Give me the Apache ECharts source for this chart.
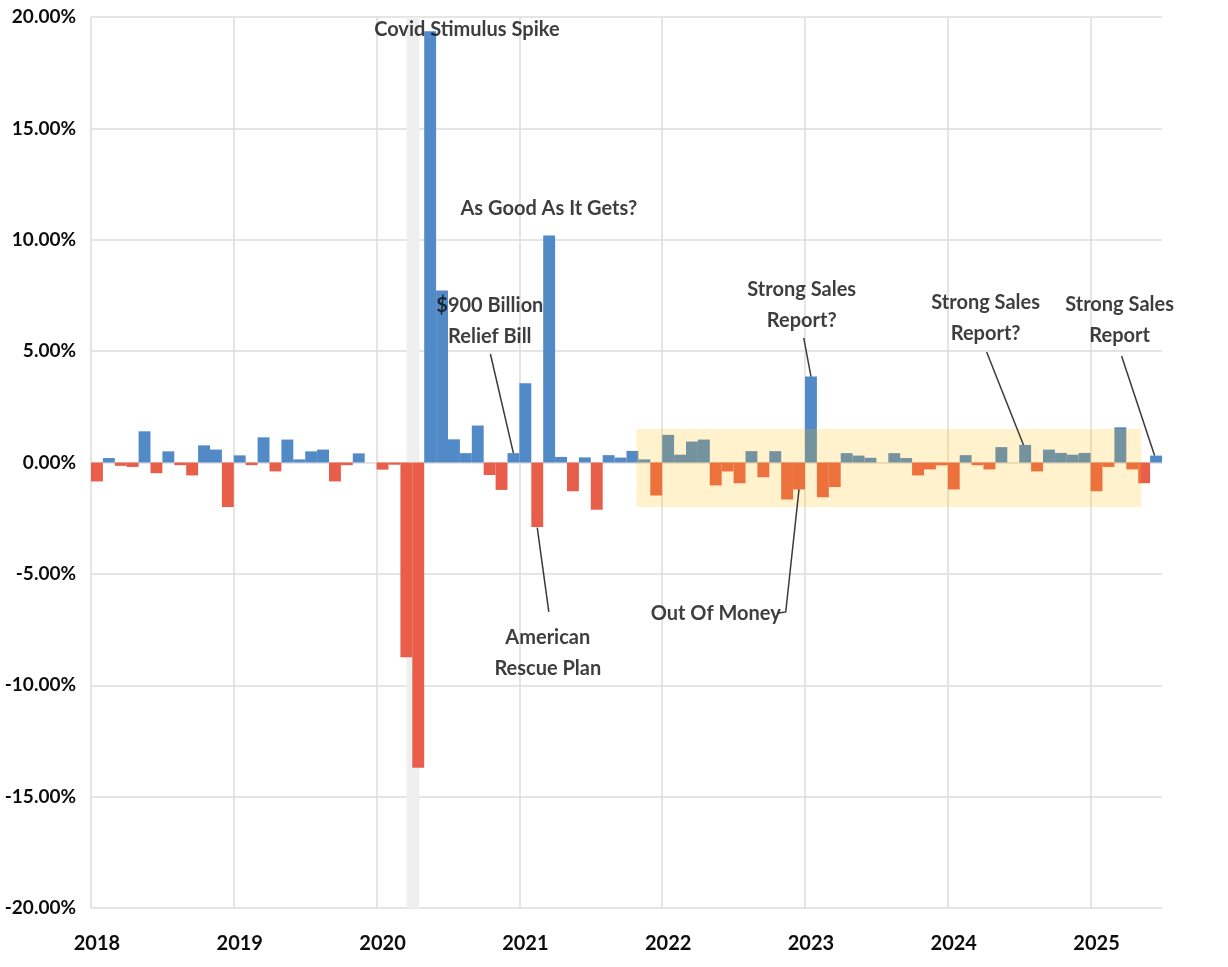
<!DOCTYPE html>
<html>
<head>
<meta charset="utf-8">
<title>Monthly Retail Sales Change</title>
<script src="https://cdn.jsdelivr.net/npm/echarts@6/dist/echarts.min.js"></script>
<style>
  html, body { margin: 0; padding: 0; background: #ffffff; }
  #chart { width: 1228px; height: 967px; }
</style>
</head>
<body>
<div id="chart"></div>
<script>
// Month-over-month change, percent, one array per calendar year
const years = [2018, 2019, 2020, 2021, 2022, 2023, 2024, 2025];
const change2018 = [-0.85, 0.20, -0.15, -0.20, 1.40, -0.48, 0.50, -0.12, -0.58, 0.77, 0.58, -2.00];
const change2019 = [0.32, -0.12, 1.13, -0.40, 1.03, 0.14, 0.50, 0.58, -0.85, -0.12, 0.41, 0.00];
const change2020 = [-0.32, -0.10, -8.74, -13.70, 19.36, 7.72, 1.04, 0.42, 1.66, -0.56, -1.23, 0.42];
const change2021 = [3.56, -2.90, 10.19, 0.25, -1.29, 0.23, -2.12, 0.33, 0.22, 0.52, 0.14, -1.48];
const change2022 = [1.24, 0.35, 0.94, 1.03, -1.03, -0.40, -0.93, 0.51, -0.66, 0.51, -1.66, -1.21];
const change2023 = [3.86, -1.56, -1.10, 0.42, 0.31, 0.21, 0.00, 0.42, 0.20, -0.58, -0.31, -0.13];
const change2024 = [-1.21, 0.33, -0.12, -0.31, 0.69, 0.00, 0.79, -0.40, 0.58, 0.43, 0.35, 0.43];
const change2025 = [-1.29, -0.20, 1.58, -0.31, -0.93, 0.31];
const changeByYear = [change2018, change2019, change2020, change2021, change2022, change2023, change2024, change2025];

// Value axis ticks (percent)
const yMin = -20;
const yMax = 20;
const yStep = 5;

// Shaded periods, x in decimal years, y in percent
const recessionBand = [2020.21, 2020.30];
const slowdownBox = { from: 2021.82, to: 2025.355, low: -2.0, high: 1.5 };

// Call-outs: text anchor and optional leader line, in (decimal year, percent)
const callouts = [
  { text: 'Covid Stimulus Spike', at: [2020.632, 19.42] },
  { text: 'As Good As It Gets?', at: [2021.206, 11.38] },
  { text: '$900 Billion\nRelief Bill', at: [2020.793, 6.35], leader: [[2020.797, 4.87], [2020.958, 0.42]] },
  { text: 'American\nRescue Plan', at: [2021.199, -8.55], leader: [[2021.125, -2.92], [2021.206, -6.71]] },
  { text: 'Strong Sales\nReport?', at: [2022.977, 7.07], leader: [[2022.991, 5.59], [2023.042, 3.86]] },
  { text: 'Out Of Money', at: [2022.375, -6.80], leader: [[2022.958, -1.21], [2022.865, -6.71], [2022.816, -6.76]] },
  { text: 'Strong Sales\nReport?', at: [2024.265, 6.49], leader: [[2024.272, 4.96], [2024.53, 0.79]] },
  { text: 'Strong Sales\nReport', at: [2025.203, 6.39], leader: [[2025.217, 4.78], [2025.448, 0.31]] }
];

// Flatten into monthly categories
const months = [];
const monthlyChange = [];
years.forEach(function (y, yi) {
  changeByYear[yi].forEach(function (v, mi) {
    months.push(y + '-' + String(mi + 1).padStart(2, '0'));
    monthlyChange.push(v);
  });
});

const FONT = "Lato, 'Liberation Sans Narrow', 'DejaVu Sans Condensed', sans-serif";
const TEXT = '#0d0d0d';
const BLUE = '#5289c7';
const RED = '#e95e4b';
const GRID = '#dcdcdc';
const isYearStart = function (index) { return index % 12 === 0; };

const chart = echarts.init(document.getElementById('chart'), null, { renderer: 'canvas' });

function rectRenderer(fill) {
  return function (params, api) {
    const p0 = api.coord([api.value(0), api.value(2)]);
    const p1 = api.coord([api.value(1), api.value(3)]);
    return {
      type: 'rect',
      shape: { x: p0[0], y: p0[1], width: p1[0] - p0[0], height: p1[1] - p0[1] },
      style: { fill: fill }
    };
  };
}

// One vertical line per year start; the closing edge line stays invisible
const yearLineColors = [];
for (let i = 0; i <= years.length; i++) {
  yearLineColors.push(i < years.length ? GRID : 'rgba(0,0,0,0)');
}

chart.setOption({
  animation: false,
  backgroundColor: '#ffffff',
  grid: { left: 91, top: 17, width: 1071, height: 891, outerBoundsMode: 'none', containLabel: false },
  xAxis: [
    {
      type: 'category',
      data: months,
      boundaryGap: true,
      axisLine: { show: false, onZero: false },
      axisTick: { show: false },
      axisLabel: {
        interval: isYearStart,
        formatter: function (v) { return v.slice(0, 4); },
        margin: 26,
        fontFamily: FONT,
        fontWeight: 'bold',
        fontSize: 20,
        color: TEXT
      },
      splitLine: {
        show: true,
        interval: isYearStart,
        lineStyle: { color: yearLineColors, width: 1.5 }
      }
    },
    {
      type: 'value',
      min: years[0],
      max: years[years.length - 1] + change2025.length / 12,
      show: false
    }
  ],
  yAxis: {
    type: 'value',
    min: yMin,
    max: yMax,
    interval: yStep,
    axisLine: { show: false },
    axisTick: { show: false },
    axisLabel: {
      formatter: function (v) { return v.toFixed(2) + '%'; },
      margin: 15,
      fontFamily: FONT,
      fontWeight: 'bold',
      fontSize: 19,
      color: TEXT
    },
    splitLine: { show: true, lineStyle: { color: GRID, width: 1.5 } }
  },
  series: [
    {
      name: 'Recession',
      type: 'custom',
      xAxisIndex: 1,
      z: 1,
      silent: true,
      renderItem: rectRenderer('#efefef'),
      data: [[recessionBand[0], recessionBand[1], yMax, yMin]]
    },
    {
      name: 'Monthly change',
      type: 'bar',
      xAxisIndex: 0,
      z: 2,
      barCategoryGap: '0%',
      barGap: '0%',
      itemStyle: {
        color: function (p) { return p.value >= 0 ? BLUE : RED; }
      },
      data: monthlyChange
    },
    {
      name: 'Slowdown',
      type: 'custom',
      xAxisIndex: 1,
      z: 3,
      silent: true,
      renderItem: rectRenderer('rgba(255,192,0,0.2)'),
      data: [[slowdownBox.from, slowdownBox.to, slowdownBox.high, slowdownBox.low]]
    },
    {
      name: 'Leaders',
      type: 'lines',
      coordinateSystem: 'cartesian2d',
      xAxisIndex: 1,
      z: 4,
      polyline: true,
      silent: true,
      lineStyle: { color: '#3a3a3a', width: 1.5, opacity: 1 },
      data: callouts.filter(function (c) { return c.leader; }).map(function (c) { return { coords: c.leader }; })
    },
    {
      name: 'Notes',
      type: 'scatter',
      xAxisIndex: 1,
      z: 5,
      silent: true,
      clip: false,
      symbolSize: 1,
      itemStyle: { color: 'rgba(0,0,0,0)' },
      label: {
        show: true,
        position: 'inside',
        formatter: '{b}',
        align: 'center',
        verticalAlign: 'middle',
        fontFamily: FONT,
        fontWeight: 'bold',
        fontSize: 20,
        lineHeight: 31,
        color: TEXT
      },
      data: callouts.map(function (c) { return { name: c.text, value: c.at }; })
    }
  ]
});
</script>
</body>
</html>
